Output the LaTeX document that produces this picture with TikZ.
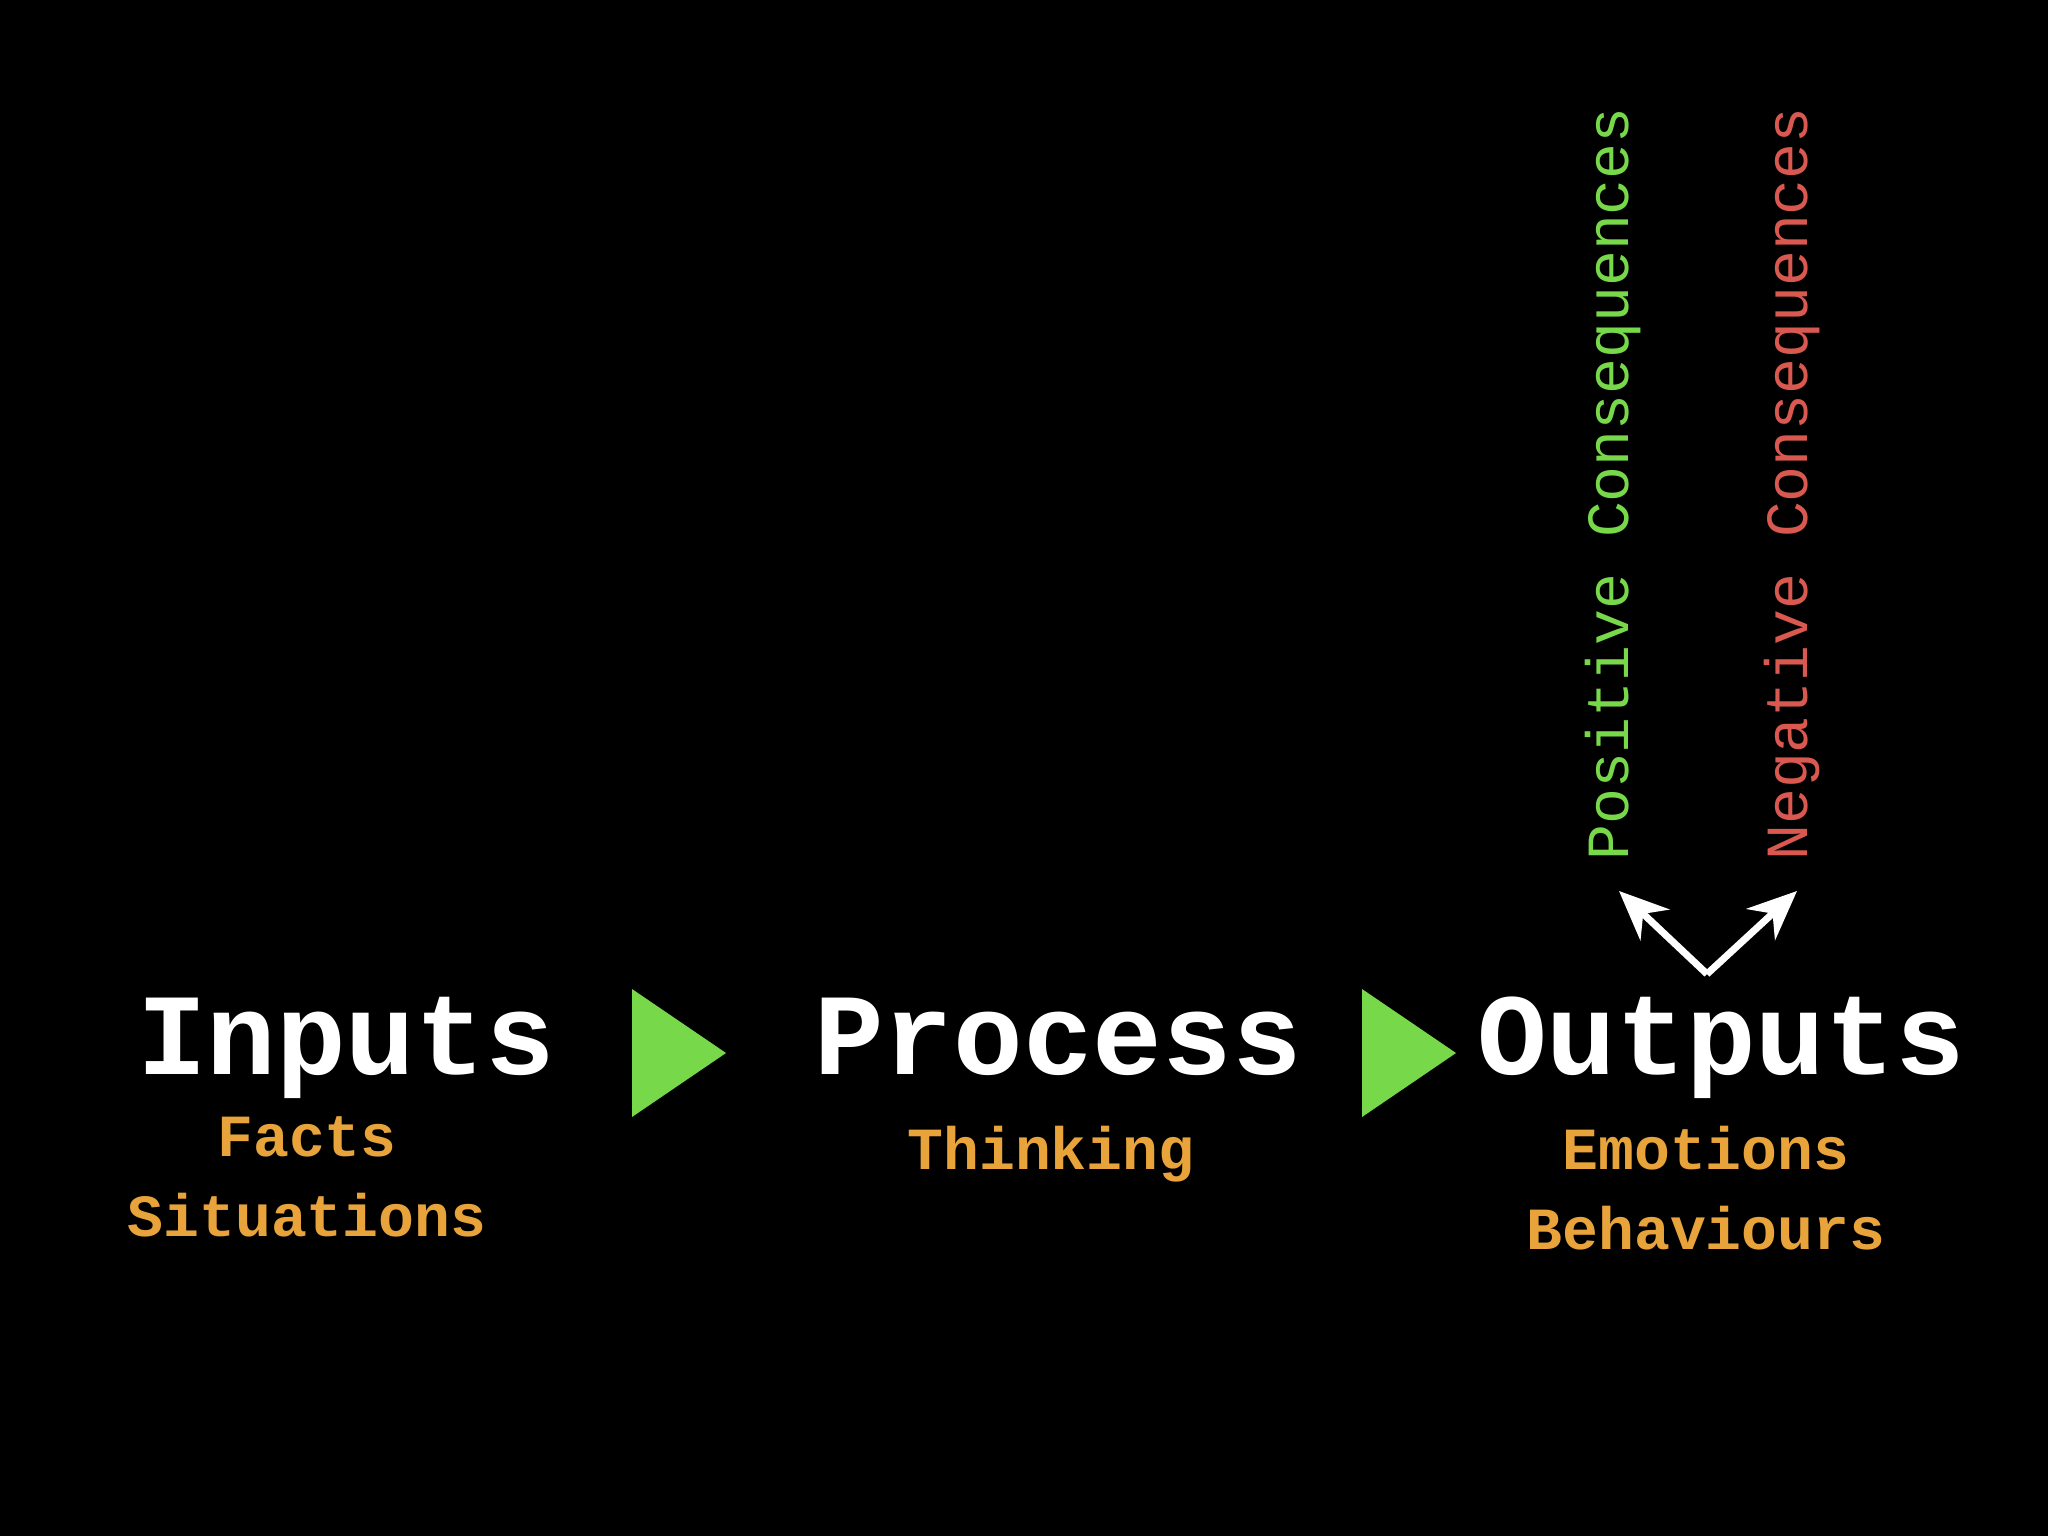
\documentclass[tikz,border=0pt]{standalone}
\usepackage{fontspec}
\setmonofont{Liberation Mono}
\usetikzlibrary{arrows.meta}
\definecolor{orng}{HTML}{E8A33A}
\definecolor{grn}{HTML}{77D94A}
\definecolor{rd}{HTML}{D9584F}
\begin{document}
\begin{tikzpicture}[x=0.01cm,y=-0.01cm,
  title/.style={text=white,font=\ttfamily\bfseries\fontsize{33}{36}\selectfont,inner sep=0,anchor=base},
  sub/.style={text=orng,font=\ttfamily\bfseries\fontsize{17}{20}\selectfont,inner sep=0,anchor=base},
  vert/.style={font=\ttfamily\fontsize{17}{20}\selectfont,rotate=90,inner sep=0},
  tri/.style={fill=grn,draw=none},
  arr/.style={white,line width=2pt,-{Stealth[length=14pt,width=12pt]}}]
\fill[black] (0,0) rectangle (2048,1536);
\node[title] (in) at (346,1074) {Inputs};
\node[title] (pr) at (1058,1074) {Process};
\node[title] (out) at (1721,1074) {Outputs};
\node[sub] (facts) at (307,1156) {Facts};
\node[sub] (sit) at (307,1236) {Situations};
\node[sub] (think) at (1051,1169) {Thinking};
\node[sub] (emo) at (1706,1169) {Emotions};
\node[sub] (beh) at (1706,1249) {Behaviours};
\fill[tri] (632,989) -- (726,1053) -- (632,1117) -- cycle;
\fill[tri] (1362,989) -- (1456,1053) -- (1362,1117) -- cycle;
\node[vert,text=grn] (pos) at (1613,484) {Positive Consequences};
\node[vert,text=rd] (neg) at (1792,484) {Negative Consequences};
\coordinate (v) at (1707,974);
\coordinate (lt) at (1619,891);
\coordinate (rt) at (1797,891);
\draw[arr] (v) -- (lt);
\draw[arr] (v) -- (rt);
\end{tikzpicture}
\end{document}
